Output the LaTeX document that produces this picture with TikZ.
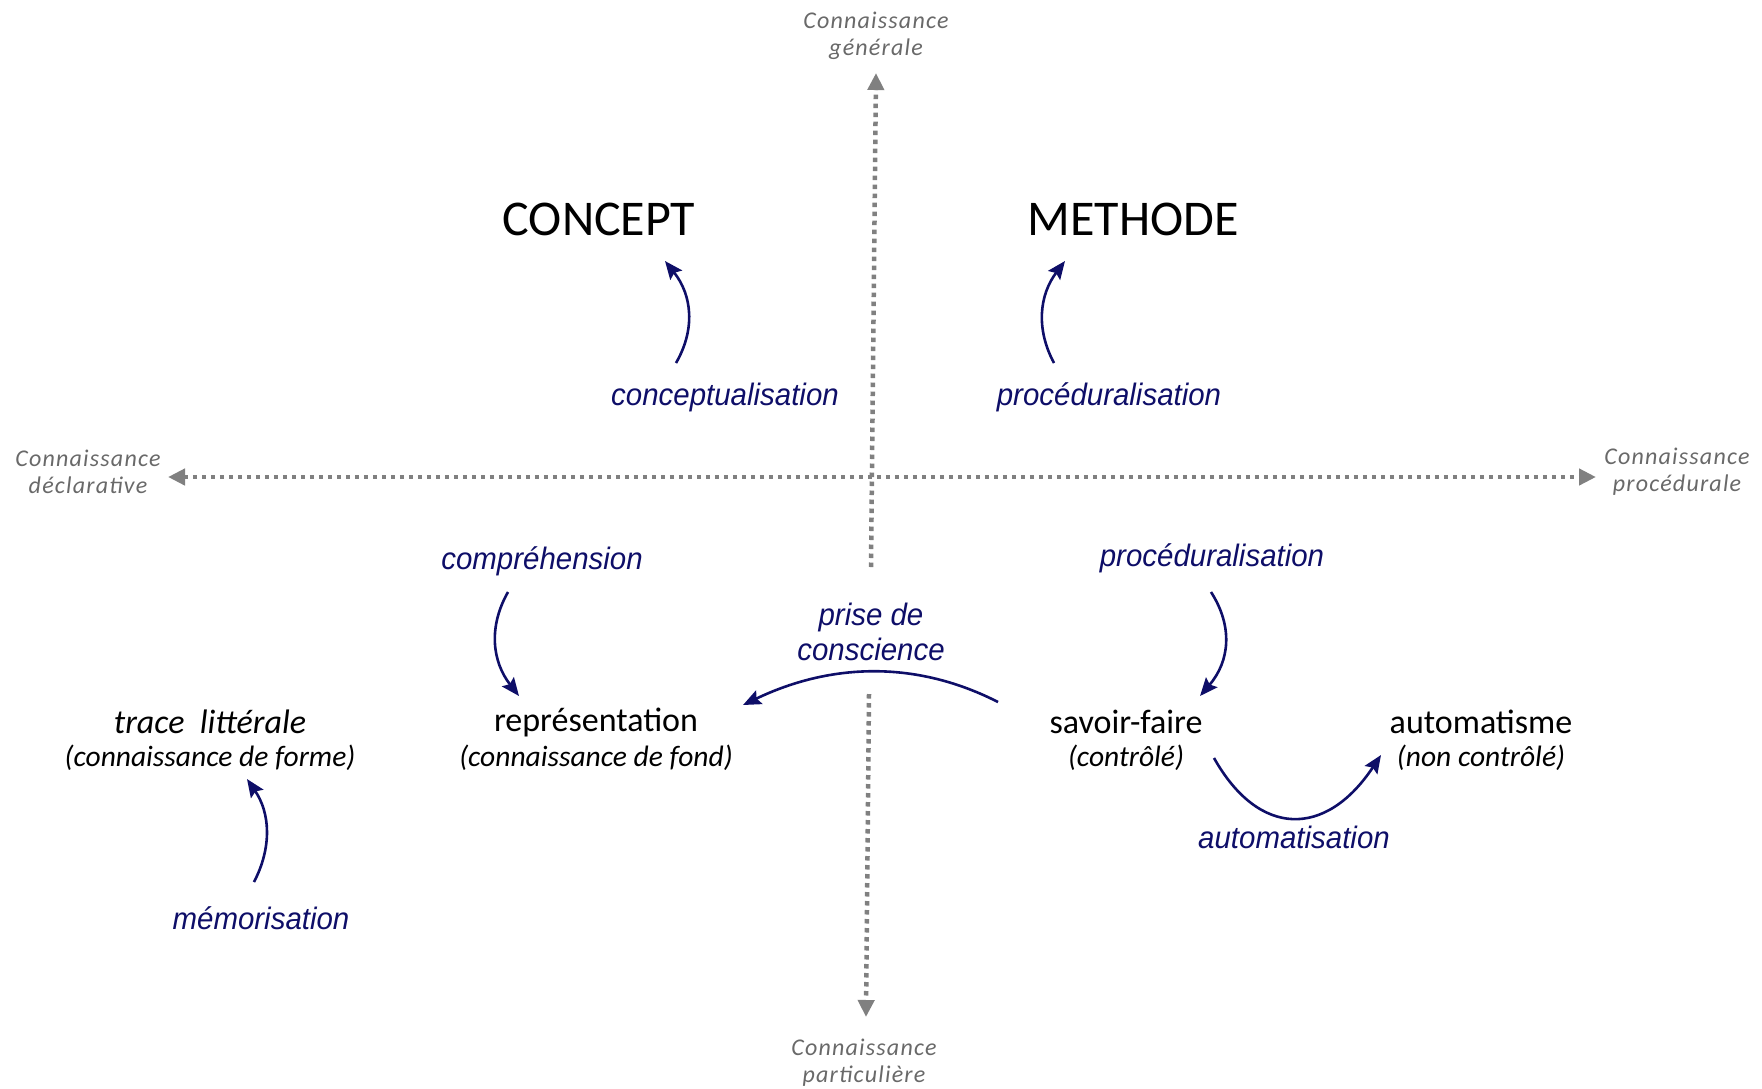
\documentclass[tikz,border=0pt]{standalone}
\usepackage{fontspec}
\setmainfont{Carlito}
\newfontfamily\labelfont{Liberation Sans}[FakeStretch=0.95]
\newfontfamily\axisfont{Carlito}[LetterSpace=5.0]
\usetikzlibrary{arrows.meta}
\definecolor{inkblue}{RGB}{14,14,104}
\definecolor{axisgray}{RGB}{128,128,128}
\definecolor{axistext}{RGB}{105,105,105}
\tikzset{
  axisline/.style={axisgray, line width=4.5pt, dash pattern=on 4.5pt off 4.5pt},
  axistip/.style={-{Triangle[length=17pt,width=16pt]}},
  axisboth/.style={{Triangle[length=17pt,width=16pt]}-{Triangle[length=17pt,width=16pt]}},
  axislabel/.style={text=axistext, align=center, font=\axisfont\itshape\fontsize{24}{27}\selectfont, inner sep=0pt},
  bigtitle/.style={font=\fontsize{50}{60}\selectfont, inner sep=0pt},
  maintitle/.style={font=\fontsize{34}{40}\selectfont, inner sep=0pt},
  subtitle/.style={font=\itshape\fontsize{29.5}{34}\selectfont, inner sep=0pt},
  process/.style={text=inkblue, align=center, font=\labelfont\itshape\fontsize{31}{35}\selectfont, inner sep=0pt},
  flow/.style={inkblue, line width=2.6pt, -{Stealth[length=18pt,width=15pt,inset=3pt]}}
}
\begin{document}
\begin{tikzpicture}[x=1pt,y=-1pt]
\useasboundingbox (0,0) rectangle (1762,1088);

% axes
\coordinate (vtop) at (876,73);
\coordinate (vtopend) at (871,567);
\coordinate (vbotstart) at (869,694);
\coordinate (vbot) at (866,1017);
\coordinate (hleft) at (168,477);
\coordinate (hright) at (1596,477);
\draw[axisline, axistip] (vtopend) -- (vtop);
\draw[axisline, axistip] (vbotstart) -- (vbot);
\draw[axisline, axisboth] (hleft) -- (hright);

\node[axislabel] (gen) at (876,36) {Connaissance\\générale};
\node[axislabel] (decl) at (88,472) {Connaissance\\déclarative};
\node[axislabel] (proc) at (1677,472) {Connaissance\\procédurale};
\node[axislabel] (part) at (864,1063) {Connaissance\\particulière};

% knowledge forms
\node[bigtitle] (concept) at (599,219) {CONCEPT};
\node[bigtitle] (methode) at (1133,219) {METHODE};

\node[maintitle] (trace) at (210,722) {\itshape trace~~littérale};
\node[subtitle] (tracesub) at (210,758) {(connaissance de forme)};
\node[maintitle] (repr) at (596,722) {représentation};
\node[subtitle] (reprsub) at (596,758) {(connaissance de fond)};
\node[maintitle] (savoir) at (1126,722) {savoir-faire};
\node[subtitle] (savoirsub) at (1126,758) {(contrôlé)};
\node[maintitle] (auto) at (1481,722) {automatisme};
\node[subtitle] (autosub) at (1481,758) {(non contrôlé)};

% processes
\node[process] (lconc) at (725,397) {conceptualisation};
\node[process] (lproc1) at (1109,397) {procéduralisation};
\node[process] (lcomp) at (542,561) {compréhension};
\node[process] (lproc2) at (1212,558) {procéduralisation};
\node[process] (lprise) at (871,632) {prise de\\conscience};
\node[process] (lmem) at (261,918) {mémorisation};
\node[process] (lauto) at (1294,837) {automatisation};

% arrow ends
\coordinate (concA) at (676,363);   \coordinate (concB) at (665,261);
\coordinate (procA) at (1054,363);  \coordinate (procB) at (1065,261);
\coordinate (compA) at (508,592);   \coordinate (compB) at (519,696);
\coordinate (proc2A) at (1211,592); \coordinate (proc2B) at (1200,696);
\coordinate (memA) at (254,882);    \coordinate (memB) at (247,779);
\coordinate (priseA) at (998,702);  \coordinate (priseB) at (743,705);
\coordinate (autoA) at (1214,758);  \coordinate (autoB) at (1381,755);

\draw[flow] (concA) .. controls (695.7,329) and (692,295) .. (concB);
\draw[flow] (procA) .. controls (1035.7,329) and (1039.3,295) .. (procB);
\draw[flow] (compA) .. controls (488.3,626.7) and (492,661.3) .. (compB);
\draw[flow] (proc2A) .. controls (1233.3,626.7) and (1229.7,661.3) .. (proc2B);
\draw[flow] (memA) .. controls (272.3,846.7) and (270,812.7) .. (memB);
\draw[flow] (priseA) .. controls (917.7,661) and (832.7,662) .. (priseB);
\draw[flow] (autoA) .. controls (1259,838) and (1326,838) .. (autoB);
\end{tikzpicture}
\end{document}
